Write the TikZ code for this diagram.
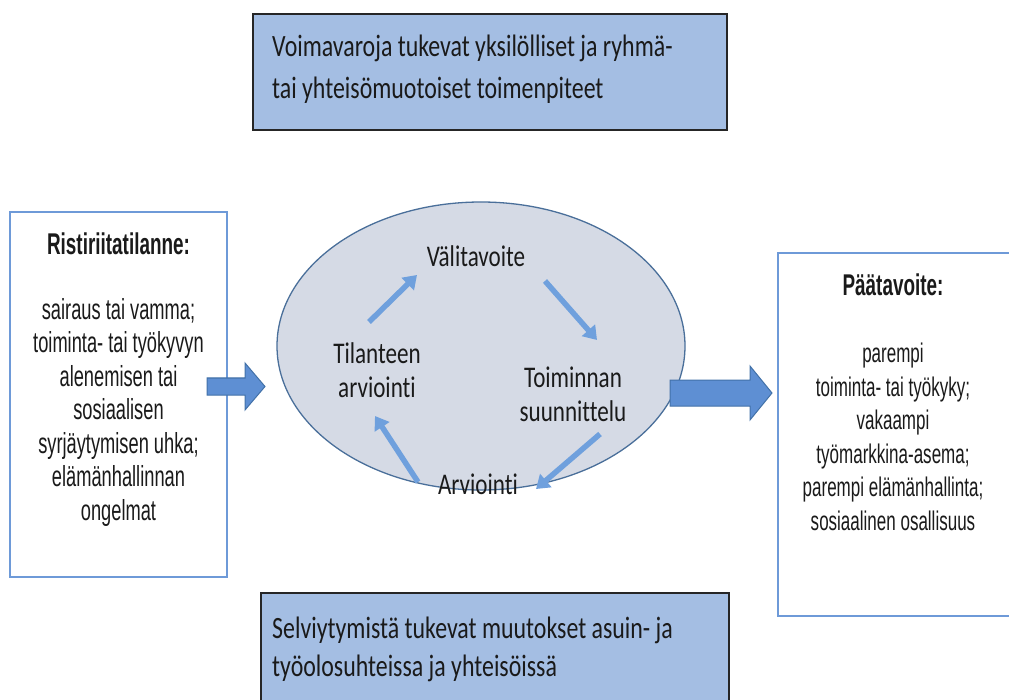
\documentclass[tikz,border=0pt]{standalone}
\usepackage{fontspec}
\usetikzlibrary{arrows.meta,shapes.geometric}
\newfontfamily\calfont[FakeStretch=0.77,RawFeature={-liga}]{Carlito}
\newfontfamily\arifont[FakeStretch=0.63]{Liberation Sans}
\definecolor{panelblue}{HTML}{A4BEE3}
\definecolor{sideedge}{HTML}{6E9AD8}
\definecolor{ovalfill}{HTML}{D5DAE5}
\definecolor{ovaledge}{HTML}{4A6F9A}
\definecolor{cyclearrow}{HTML}{6FA0DD}
\definecolor{blockfill}{HTML}{5E8FD3}
\definecolor{blockedge}{HTML}{4271A8}
\definecolor{inktext}{HTML}{1A1A1A}
\begin{document}
\begin{tikzpicture}[x=1pt,y=-1pt,
  panel/.style={draw=black!85,line width=1.3pt,fill=panelblue,inner sep=0pt,outer sep=0pt},
  paneltext/.style={text=inktext,align=left,inner sep=0pt,anchor=north west},
  sidebox/.style={draw=sideedge,line width=2.4pt,fill=white,inner sep=0pt,outer sep=0pt},
  sidetext/.style={text=inktext,align=center,inner sep=0pt,anchor=north},
  cyclelabel/.style={text=inktext,font=\calfont\fontsize{30}{34}\selectfont,align=center,inner sep=0pt},
  cyclestep/.style={draw=cyclearrow,line width=5.5pt,-{Triangle[width=17pt,length=13pt]}},
  blockarrow/.style={fill=blockfill,draw=blockedge,line width=1pt,line join=miter}
]
\useasboundingbox (0,0) rectangle (1009,700);

% top panel
\node[panel,minimum width=474pt,minimum height=116pt,anchor=north west] (toppanel) at (253,14) {};
\node[paneltext,font=\calfont\fontsize{31}{42}\selectfont] (toptext) at (272,35)
  {Voimavaroja tukevat yksilölliset ja ryhmä-\\tai yhteisömuotoiset toimenpiteet};

% bottom panel (runs off the lower edge)
\node[panel,minimum width=468pt,minimum height=118pt,anchor=north west] (botpanel) at (261,593) {};
\node[paneltext,font=\calfont\fontsize{31}{38}\selectfont] (bottext) at (272,617)
  {Selviytymistä tukevat muutokset asuin- ja\\työolosuhteissa ja yhteisöissä};

% starting situation
\node[sidebox,minimum width=217pt,minimum height=365pt,anchor=north west] (leftbox) at (10,212) {};
\node[sidetext,font=\arifont\fontsize{29}{33.5}\selectfont] (lefttext) at (118.5,233)
  {\textbf{\fontsize{30}{33.5}\selectfont Ristiriitatilanne:}\\[31pt]
   sairaus tai vamma;\\toiminta- tai työkyvyn\\alenemisen tai\\sosiaalisen\\syrjäytymisen uhka;\\elämänhallinnan\\ongelmat};

% final goal (runs off the right edge)
\node[sidebox,minimum width=234pt,minimum height=363pt,anchor=north west] (rightbox) at (778,253) {};
\node[sidetext,font=\arifont\fontsize{27}{33.6}\selectfont] (righttext) at (893,274)
  {\textbf{\fontsize{30}{33.6}\selectfont Päätavoite:}\\[33pt]
   parempi\\toiminta- tai työkyky;\\vakaampi\\työmarkkina-asema;\\parempi elämänhallinta;\\sosiaalinen osallisuus};

% process cycle
\node[ellipse,draw=ovaledge,line width=1.3pt,fill=ovalfill,minimum width=408pt,minimum height=288pt] (cycle) at (481,346) {};
\node[cyclelabel] (goal) at (476,256) {Välitavoite};
\node[cyclelabel] (assess) at (377,370) {Tilanteen\\arviointi};
\node[cyclelabel] (plan) at (573,394) {Toiminnan\\suunnittelu};
\node[cyclelabel] (review) at (478,484) {Arviointi};

\coordinate (a1s) at (369,322); \coordinate (a1e) at (417,275);
\coordinate (a2s) at (545,281); \coordinate (a2e) at (597,340);
\coordinate (a3s) at (600,434); \coordinate (a3e) at (536,489);
\coordinate (a4s) at (418,482); \coordinate (a4e) at (375,416);
\draw[cyclestep] (a1s) -- (a1e);
\draw[cyclestep] (a2s) -- (a2e);
\draw[cyclestep] (a3s) -- (a3e);
\draw[cyclestep] (a4s) -- (a4e);

% block arrows into and out of the cycle
\draw[blockarrow] (207,378) -- (245,378) -- (245,363) -- (265,386.5) -- (245,410) -- (245,395) -- (207,395) -- cycle;
\draw[blockarrow] (670,380) -- (750,380) -- (750,366) -- (772,393) -- (750,420) -- (750,406) -- (670,406) -- cycle;
\end{tikzpicture}
\end{document}
